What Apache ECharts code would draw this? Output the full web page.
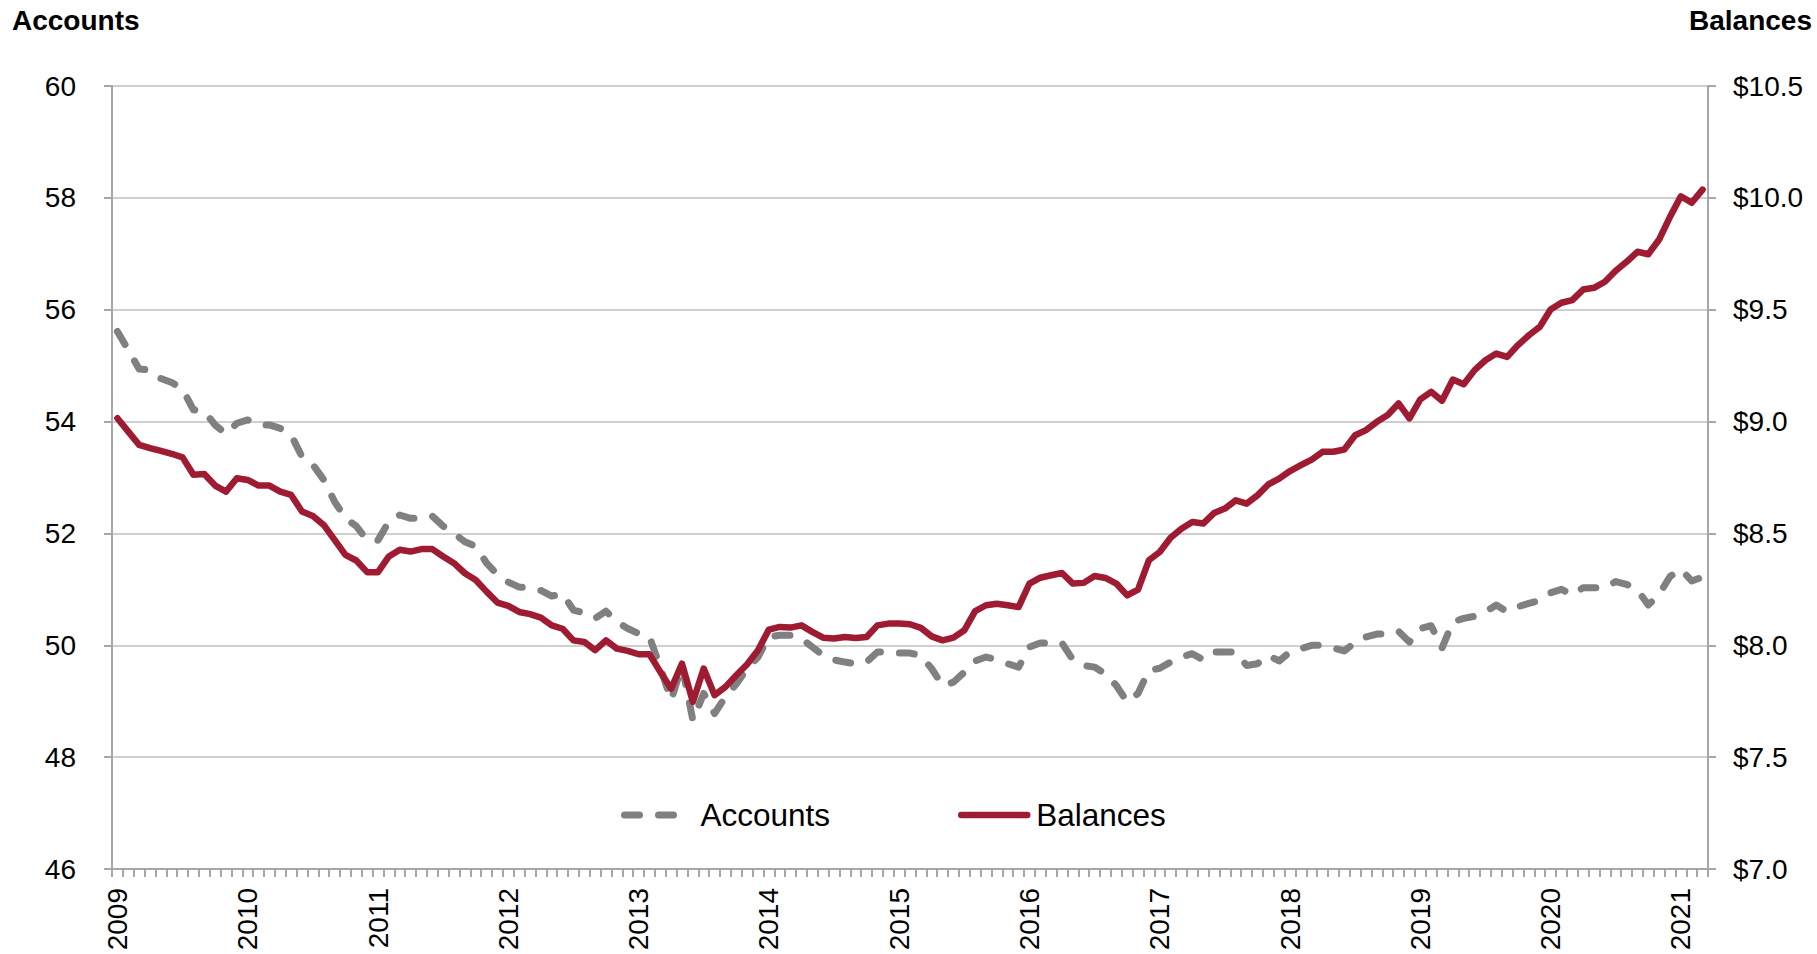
<!DOCTYPE html>
<html><head><meta charset="utf-8">
<script src="https://cdn.jsdelivr.net/npm/echarts@6/dist/echarts.min.js"></script>
<style>html,body{margin:0;padding:0;background:#fff}#c{width:1817px;height:954px}</style>
</head><body><div id="c"></div>
<script>
// ---- data ----
const startYear = 2009;
const monthCount = 147; // Jan 2009 .. Mar 2021
const accounts = [
55.61,55.28,54.94,54.92,54.77,54.70,54.58,54.21,54.18,53.94,53.78,53.97,
54.03,53.94,53.94,53.88,53.76,53.37,53.23,52.96,52.57,52.27,52.13,51.88,
51.88,52.21,52.33,52.27,52.27,52.31,52.13,52.00,51.85,51.77,51.47,51.26,
51.13,51.04,51.03,50.98,50.88,50.92,50.63,50.58,50.48,50.61,50.42,50.30,
50.21,50.15,49.61,49.02,49.64,48.66,49.14,48.78,49.08,49.31,49.58,49.79,
50.15,50.18,50.18,50.12,49.97,49.82,49.74,49.70,49.67,49.70,49.88,49.88,
49.86,49.86,49.82,49.58,49.28,49.34,49.52,49.72,49.79,49.74,49.67,49.61,
49.97,50.04,50.04,50.04,49.74,49.64,49.61,49.49,49.28,48.99,49.14,49.55,
49.59,49.70,49.79,49.85,49.74,49.88,49.88,49.88,49.64,49.67,49.82,49.72,
49.88,49.94,50.00,50.00,49.95,49.90,50.05,50.15,50.20,50.20,50.25,50.06,
50.30,50.35,49.95,50.42,50.48,50.52,50.60,50.72,50.60,50.69,50.75,50.80,
50.94,51.00,50.90,51.03,51.03,51.03,51.14,51.09,50.99,50.72,50.91,51.23,
51.36,51.15,51.22
];
const balances = [
9.015,8.955,8.896,8.881,8.869,8.856,8.840,8.762,8.766,8.714,8.687,8.747,
8.739,8.714,8.714,8.687,8.672,8.598,8.578,8.538,8.471,8.404,8.379,8.327,
8.327,8.397,8.427,8.419,8.430,8.430,8.397,8.367,8.322,8.292,8.240,8.191,
8.176,8.149,8.139,8.124,8.089,8.074,8.022,8.015,7.978,8.022,7.985,7.975,
7.960,7.960,7.881,7.806,7.918,7.747,7.896,7.777,7.814,7.866,7.915,7.978,
8.070,8.082,8.079,8.089,8.060,8.034,8.030,8.037,8.033,8.037,8.089,8.097,
8.097,8.094,8.078,8.040,8.022,8.034,8.067,8.153,8.179,8.186,8.179,8.171,
8.276,8.302,8.313,8.323,8.276,8.279,8.310,8.301,8.276,8.223,8.249,8.380,
8.417,8.481,8.521,8.551,8.544,8.591,8.611,8.648,8.633,8.670,8.719,8.745,
8.779,8.805,8.830,8.865,8.865,8.875,8.939,8.962,8.999,9.029,9.081,9.014,
9.099,9.133,9.093,9.188,9.167,9.230,9.274,9.304,9.289,9.342,9.386,9.423,
9.501,9.531,9.543,9.590,9.598,9.625,9.674,9.714,9.759,9.748,9.814,9.915,
10.007,9.978,10.037
];
const leftTicks = [46, 48, 50, 52, 54, 56, 58, 60];
const rightTicks = [7.0, 7.5, 8.0, 8.5, 9.0, 9.5, 10.0, 10.5];
const seriesNames = ['Accounts', 'Balances'];

// category labels (one per month)
const months = [];
for (let k = 0; k < monthCount; k++) {
  const y = startYear + Math.floor(k / 12);
  const m = (k % 12) + 1;
  months.push(y + '-' + (m < 10 ? '0' + m : m));
}

const FONT = "'Liberation Sans', Arial, Helvetica, sans-serif";
const AXIS_COLOR = '#A6A6A6';
const GRAY = '#808080';
const RED = '#9E1B32';
const DASH = [15, 19];

const chart = echarts.init(document.getElementById('c'), null, {renderer: 'svg'});
chart.setOption({
  animation: false,
  backgroundColor: '#ffffff',
  textStyle: {fontFamily: FONT},
  title: [
    {text: 'Accounts', left: 12, top: 6, padding: 0,
     textStyle: {fontSize: 28, fontWeight: 'bold', color: '#000', fontFamily: FONT}},
    {text: 'Balances', right: 5, top: 6, padding: 0,
     textStyle: {fontSize: 28, fontWeight: 'bold', color: '#000', fontFamily: FONT}}
  ],
  legend: [
    {data: [seriesNames[0]], left: 621, top: 799, padding: 0, itemWidth: 64, itemHeight: 18,
     itemStyle: {opacity: 0, borderWidth: 0},
     lineStyle: {width: 7, type: DASH, cap: 'round', color: GRAY},
     textStyle: {fontSize: 31.5, color: '#000', fontFamily: FONT, padding: [0, 0, 0, 7]}},
    {data: [seriesNames[1]], left: 958, top: 799, padding: 0, itemWidth: 66, itemHeight: 18,
     itemStyle: {opacity: 0, borderWidth: 0},
     lineStyle: {width: 6.5, type: 'solid', cap: 'round', color: RED},
     textStyle: {fontSize: 31.5, color: '#000', fontFamily: FONT, padding: [0, 0, 0, 4]}}
  ],
  grid: {left: 112, right: 109, top: 86, bottom: 85, containLabel: false},
  xAxis: {
    type: 'category',
    data: months,
    boundaryGap: true,
    axisLine: {show: true, lineStyle: {color: AXIS_COLOR, width: 2}},
    axisTick: {show: true, interval: 0, length: 8, alignWithLabel: false,
               lineStyle: {color: AXIS_COLOR, width: 2}},
    axisLabel: {
      interval: function (idx, val) { return val.slice(5) === '01'; },
      formatter: function (val) { return val.slice(0, 4); },
      rotate: 90, margin: 19, fontSize: 28, color: '#000', fontFamily: FONT
    },
    splitLine: {show: false}
  },
  yAxis: [
    {
      type: 'value', position: 'left',
      min: leftTicks[0], max: leftTicks[leftTicks.length - 1], interval: leftTicks[1] - leftTicks[0],
      axisLine: {show: true, lineStyle: {color: AXIS_COLOR, width: 2}},
      axisTick: {show: true, length: 8, lineStyle: {color: AXIS_COLOR, width: 2}},
      axisLabel: {margin: 36, fontSize: 28, color: '#000', fontFamily: FONT},
      splitLine: {show: true, lineStyle: {color: '#BFBFBF', width: 1.5}}
    },
    {
      type: 'value', position: 'right',
      min: rightTicks[0], max: rightTicks[rightTicks.length - 1], interval: rightTicks[1] - rightTicks[0],
      axisLine: {show: true, lineStyle: {color: AXIS_COLOR, width: 2}},
      axisTick: {show: true, length: 8, lineStyle: {color: AXIS_COLOR, width: 2}},
      axisLabel: {margin: 25, fontSize: 28, color: '#000', fontFamily: FONT,
                  formatter: function (v) { return '$' + v.toFixed(1); }},
      splitLine: {show: false}
    }
  ],
  series: [
    {
      name: seriesNames[0], type: 'line', yAxisIndex: 0, data: accounts,
      symbol: 'none', showSymbol: false, smooth: false, z: 2,
      itemStyle: {color: GRAY},
      lineStyle: {color: GRAY, width: 7, type: DASH, cap: 'round', join: 'round'}
    },
    {
      name: seriesNames[1], type: 'line', yAxisIndex: 1, data: balances,
      symbol: 'none', showSymbol: false, smooth: false, z: 3,
      itemStyle: {color: RED},
      lineStyle: {color: RED, width: 6.5, type: 'solid', cap: 'round', join: 'round'}
    }
  ]
});
</script>
</body></html>
